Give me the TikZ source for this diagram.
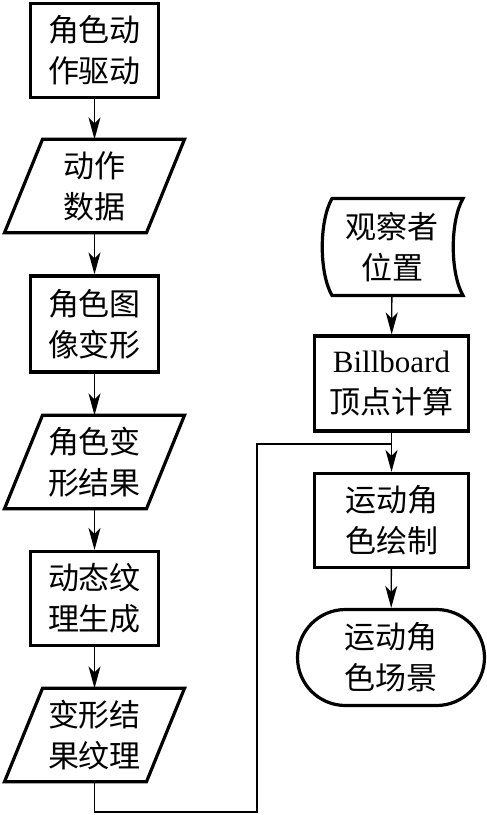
\documentclass[tikz,border=0pt]{standalone}
\usepackage{fontspec}
\setmainfont{Liberation Serif}
\newfontfamily\cjk{Noto Sans CJK SC}
\usetikzlibrary{arrows.meta}
\tikzset{
  thickline/.style={line width=3.2pt, line join=miter},
  txt/.style={align=center, inner sep=0pt, font=\cjk\fontsize{31}{41}\selectfont},
  box/.style={txt, draw, thickline, minimum width=128pt, minimum height=94pt},
  rbox/.style={box, minimum width=154pt},
  paranode/.style={txt, minimum width=142pt, minimum height=93pt},
  conn/.style={line width=1.4pt},
  arr/.style={conn, -{Stealth[length=22pt, width=12pt, inset=6pt]}},
}
\begin{document}
\begin{tikzpicture}[x=1pt,y=-1pt]
\useasboundingbox (0,0) rectangle (487,815);
% left column
\node[box] (b1) at (94.5,50.5) {角色动\\作驱动};
\node[paranode] (p1) at (94.5,186) {动作\\数据};
\node[box, minimum height=96pt] (b2) at (94.5,324) {角色图\\像变形};
\node[paranode] (p2) at (94.5,462) {角色变\\形结果};
\node[box] (b3) at (94.5,598.5) {动态纹\\理生成};
\node[paranode] (p3) at (94.5,735) {变形结\\果纹理};
\foreach \n in {p1,p2,p3}
  \draw[thickline] ([xshift=-52pt]\n.north) -- ([xshift=90pt]\n.north)
     -- ([xshift=52pt]\n.south) -- ([xshift=-90pt]\n.south) -- cycle;
% right column
\node[txt, minimum width=130pt, minimum height=100pt] (obs) at (392,247) {观察者\\位置};
\draw[thickline] (332,198.5) -- (463,198.5) .. controls (450,221) and (450,273) .. (463,295.5)
   -- (332,295.5) .. controls (319,273) and (319,221) .. (332,198.5) -- cycle;
\node[rbox, minimum height=95pt] (b4) at (391.5,383.5) {{\rmfamily\fontsize{31}{41}\selectfont Billboard}\\顶点计算};
\node[rbox] (b5) at (391.5,520.5) {运动角\\色绘制};
\node[txt, draw, thickline, rounded corners=48pt, minimum width=187pt, minimum height=96pt] (t1) at (391,657.5) {运动角\\色场景};
% connectors
\draw[arr] (b1) -- (p1);
\draw[arr] (p1) -- (b2);
\draw[arr] (b2) -- (p2);
\draw[arr] (p2) -- (b3);
\draw[arr] (b3) -- (p3);
\draw[arr] (obs) -- (b4);
\draw[arr] (b4) -- (b5);
\draw[arr] (b5) -- (t1);
\coordinate (c1) at (257,812);
\coordinate (j) at (391.5,444);
\draw[conn] (p3.south) |- (c1) |- (j);
\end{tikzpicture}
\end{document}
